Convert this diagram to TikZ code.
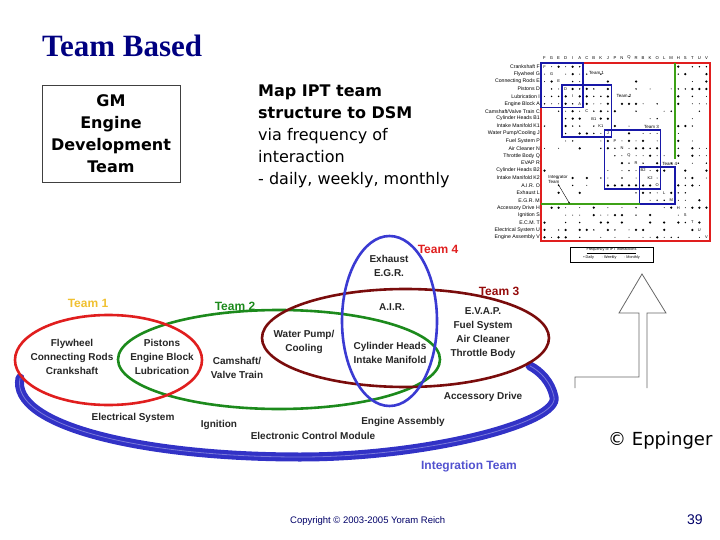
\documentclass[tikz,border=0pt]{standalone}
\usepackage{fontspec}
\setmainfont{Liberation Sans}
\newfontfamily\tahomaf{DejaVu Sans}
\newfontfamily\titlef{Liberation Serif}
\usetikzlibrary{shapes.geometric, arrows.meta}
\definecolor{navy}{HTML}{000080}
\definecolor{teamred}{HTML}{E01E1E}
\definecolor{teamgold}{HTML}{F0C030}
\definecolor{teamgreen}{HTML}{1C8A1C}
\definecolor{teammaroon}{HTML}{7A0C0C}
\definecolor{teamblue}{HTML}{3A3AD2}
\definecolor{intblue}{HTML}{3232C6}
\definecolor{dsmblue}{HTML}{1818A8}
\tikzset{teamring/.style={ellipse, draw, line width=2.6pt, inner sep=0pt}}
\tikzset{part/.style={align=center, inner sep=0pt, text=black!85, font=\bfseries\fontsize{10}{14}\selectfont}}
\tikzset{teamlbl/.style={inner sep=0pt, font=\bfseries\fontsize{12}{14}\selectfont}}
\tikzset{dsmrow/.style={anchor=east, inner sep=1pt, font=\fontsize{5.2}{6}\selectfont}}
\tikzset{dsmcol/.style={inner sep=0pt, font=\fontsize{4.2}{5}\selectfont}}
\tikzset{dsmdiag/.style={inner sep=0pt, font=\fontsize{4}{5}\selectfont}}
\tikzset{dsmnote/.style={inner sep=0pt, font=\fontsize{4.5}{5}\selectfont}}

\begin{document}
\begin{tikzpicture}[x=1pt, y=-1pt]
\useasboundingbox (0,0) rectangle (720,540);
% title and boxes
\node[anchor=base west, inner sep=0pt, text=navy, font=\titlef\bfseries\fontsize{31}{31}\selectfont] (title) at (42,57) {Team Based};
\node[draw=black!75, line width=0.8pt, minimum width=138pt, minimum height=97pt, align=center, font=\tahomaf\bfseries\fontsize{16}{22}\selectfont] (gm) at (111,133.5) {GM\\Engine\\Development\\Team};
\node[anchor=north west, inner sep=0pt, align=left, font=\tahomaf\fontsize{16}{22}\selectfont] (map) at (258,85) {\textbf{Map IPT team}\\\textbf{structure to DSM}\\via frequency of\\interaction\\- daily, weekly, monthly};

% DSM
\begin{scope}[shift={(541,63)}, x=7.04pt, y=-7.42pt]
\pgfmathsetseed{5}
\foreach \rw in {0,...,23}{
  \foreach \cl in {0,...,23}{
    \ifnum\rw=\cl\relax\else
      \pgfmathtruncatemacro{\intm}{((\rw<6)&&(\cl<6))||((\rw>2)&&(\rw<10)&&(\cl>2)&&(\cl<10))||((\rw>8)&&(\rw<17)&&(\cl>8)&&(\cl<17))||((\rw>13)&&(\rw<19)&&(\cl>13)&&(\cl<19))}
      \pgfmathtruncatemacro{\inig}{(\rw>18)||(\cl>18)}
      \pgfmathsetmacro{\pr}{\intm>0 ? 0.8 : (\inig>0 ? 0.6 : 0.2)}
      \pgfmathsetmacro{\rv}{rnd}
      \pgfmathsetmacro{\sv}{rnd}
      \pgfmathsetmacro{\dr}{\sv<0.4 ? 1.25 : (\sv<0.7 ? 0.8 : 0.5)}
      \ifdim\rv pt<\pr pt\fill (\cl+.5,\rw+.5) circle[radius=\dr pt];\fi
    \fi
  }
}
\foreach \lt [count=\i from 0] in {F,G,E,D,I,A,C,B1,K1,J,P,N,Q,R,B2,K2,O,L,M,H,S,T,U,V}
  \node[dsmdiag] (dg\i) at (\i+.5,\i+.5) {\lt};
\foreach \lt [count=\i from 0] in {F,G,E,D,I,A,C,B,K,J,P,N,Q,R,B,K,O,L,M,H,S,T,U,V}
  \node[dsmcol] (cl\i) at (\i+.5,-.7) {\lt};
\foreach \lb [count=\i from 0] in {Crankshaft F,Flywheel G,Connecting Rods E,Pistons D,Lubrication I,Engine Block A,Camshaft/Valve Train C,Cylinder Heads B1,Intake Manifold K1,Water Pump/Cooling J,Fuel System P,Air Cleaner N,Throttle Body Q,EVAP R,Cylinder Heads B2,Intake Manifold K2,A.I.R. O,Exhaust L,E.G.R. M,Accessory Drive H,Ignition S,E.C.M. T,Electrical System U,Engine Assembly V}
  \node[dsmrow] (rw\i) at (0,\i+.5) {\lb};
\draw[teamred, line width=1.2pt] (0,0) rectangle (24,24);
\draw[dsmblue, line width=1.6pt] (0,0) rectangle (6,6);
\draw[dsmblue, line width=1.6pt] (3,3) rectangle (10,10);
\draw[dsmblue, line width=1.6pt] (9,9) rectangle (17,17);
\draw[dsmblue, line width=1.6pt] (14,14) rectangle (19,19);
\draw[teamgreen!80!lime, line width=1.5pt] (19,0) -- (19,13);
\draw[teamgreen!80!lime, line width=1.5pt] (0,19) -- (14,19);
\node[dsmnote] (m1) at (7.9,1.4) {Team 1};
\node[dsmnote] (m2) at (11.8,4.4) {Team 2};
\node[dsmnote] (m3) at (15.7,8.6) {Team 3};
\node[dsmnote] (m4) at (18.3,13.6) {Team 4};
\node[dsmnote, align=left] (mint) at (2.4,15.7) {Integrator\\Team};
\coordinate (mintend) at (4.1,19);
\draw[-{Latex[length=2pt,width=1.6pt]}, line width=0.4pt] (mint.south) -- (mintend);
\end{scope}
% legend
\node[draw, line width=0.6pt, minimum width=83pt, minimum height=15pt, inner sep=0pt] (legend) at (611.5,254.5) {};
\node[dsmnote, font=\fontsize{3.8}{4}\selectfont] (legt) at (611.5,250.6) {\underline{Frequency of IPT Interactions}};
\node[dsmnote, font=\fontsize{3.8}{4}\selectfont] (legk) at (611.5,257.8) {\textbullet\ Daily\qquad\textperiodcentered\ Weekly\qquad\textperiodcentered\ Monthly};

% bent arrow
\draw[black!60, line width=0.8pt] (575,388) -- (575,377) -- (639,377) -- (639,313) -- (619,313) -- (642,274) -- (666,313) -- (647,313) -- (647,388);

% integration team
\draw[intblue, line width=9pt, line cap=round] (20,378) .. controls (10,425) and (140,457) .. (300,457) .. controls (430,457) and (560,422) .. (554,397) .. controls (551,382) and (540,371) .. (530,366);
\draw[white, opacity=.35, line width=0.8pt] (20,378) .. controls (10,425) and (140,457) .. (300,457) .. controls (430,457) and (560,422) .. (554,397) .. controls (551,382) and (540,371) .. (530,366);

% teams
\node[teamring, draw=teamgreen, minimum width=322pt, minimum height=99pt] (team2) at (279,359.5) {};
\node[teamring, draw=teamred, minimum width=187pt, minimum height=90pt] (team1) at (108.5,360) {};
\node[teamring, draw=teammaroon, minimum width=287pt, minimum height=98pt] (team3) at (405.5,338) {};
\node[teamring, draw=teamblue, minimum width=95pt, minimum height=170pt] (team4) at (389.5,321) {};
\node[teamlbl, text=teamgold] (t1) at (88,303) {Team 1};
\node[teamlbl, text=teamgreen] (t2) at (235,306) {Team 2};
\node[teamlbl, text=teammaroon!80!red] (t3) at (499,291) {Team 3};
\node[teamlbl, text=teamred] (t4) at (438,249) {Team 4};
\node[teamlbl, text=intblue!85!white] (tint) at (469,466) {Integration Team};

% parts
\node[part] (p1) at (72,357) {Flywheel\\Connecting Rods\\Crankshaft};
\node[part] (p2) at (162,357) {Pistons\\Engine Block\\Lubrication};
\node[part] (p3) at (237,368) {Camshaft/\\Valve Train};
\node[part] (p4) at (304,342) {Water Pump/\\Cooling};
\node[part] (p5) at (390,353) {Cylinder Heads\\Intake Manifold};
\node[part] (p6) at (389,266) {Exhaust\\E.G.R.};
\node[part] (p7) at (392,307) {A.I.R.};
\node[part] (p8) at (483,333) {E.V.A.P.\\Fuel System\\Air Cleaner\\Throttle Body};
\node[part] (p9) at (483,397) {Accessory Drive};
\node[part] (p10) at (133,418) {Electrical System};
\node[part] (p11) at (219,425) {Ignition};
\node[part] (p12) at (403,422) {Engine Assembly};
\node[part] (p13) at (313,436) {Electronic Control Module};

% footer
\node[anchor=base west, inner sep=0pt, font=\tahomaf\fontsize{18}{20}\selectfont] (epp) at (608,445) {© Eppinger};
\node[anchor=base west, inner sep=0pt, text=navy!80!black, font=\fontsize{9.5}{10}\selectfont] (copy) at (290,523) {Copyright © 2003-2005 Yoram Reich};
\node[anchor=base west, inner sep=0pt, text=navy!80!black, font=\fontsize{14}{14}\selectfont] (pg) at (687,524) {39};
\end{tikzpicture}
\end{document}
